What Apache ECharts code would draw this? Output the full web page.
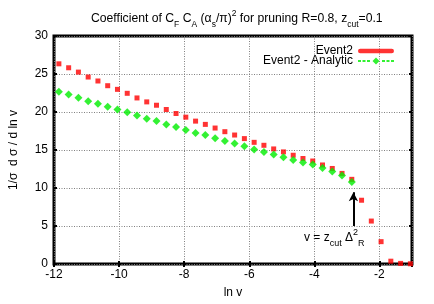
<!DOCTYPE html>
<html>
<head>
<meta charset="utf-8">
<script src="https://cdn.jsdelivr.net/npm/echarts@6/dist/echarts.min.js"></script>
<style>
html,body{margin:0;padding:0;background:#fff;}
#c{width:434px;height:304px;}
</style>
</head>
<body>
<div id="c"></div>
<script>
// ln v bin centres
const lnV = [-11.85,-11.55,-11.25,-10.95,-10.65,-10.35,-10.05,-9.75,-9.45,-9.15,
  -8.85,-8.55,-8.25,-7.95,-7.65,-7.35,-7.05,-6.75,-6.45,-6.15,
  -5.85,-5.55,-5.25,-4.95,-4.65,-4.35,-4.05,-3.75,-3.45,-3.15,
  -2.85,-2.55,-2.25,-1.95,-1.65,-1.35,-1.05];
// Event2
const event2 = [26.34,25.82,25.25,24.60,24.08,23.46,22.98,22.46,21.85,21.33,
  20.89,20.33,19.80,19.32,18.80,18.37,17.89,17.41,16.97,16.50,
  16.01,15.62,15.14,14.75,14.31,13.88,13.55,13.03,12.57,11.92,
  11.14,8.39,5.65,2.94,0.37,0.08,0.03];
// Event2 - Analytic
const event2Analytic = [22.68,22.29,21.86,21.41,21.07,20.68,20.33,19.97,19.54,19.11,
  18.80,18.37,18.01,17.62,17.23,16.97,16.54,16.18,15.84,15.49,
  15.06,14.75,14.41,14.05,13.70,13.36,13.08,12.63,12.18,11.66,
  10.78];
const seriesNames = ['Event2', 'Event2 - Analytic'];
const arrowX = -2.8;
const arrowFrom = 5;
const arrowTo = 9.45;

const FONT = 'Liberation Sans, Arial, Helvetica, sans-serif';
const chart = echarts.init(document.getElementById('c'), null, {renderer: 'canvas'});

const subSup = {
  sub: {fontSize: 8.5, lineHeight: 8, verticalAlign: 'bottom', fontFamily: FONT, color: '#000'},
  sup: {fontSize: 8.5, lineHeight: 8, verticalAlign: 'top', fontFamily: FONT, color: '#000'}
};

const axisCommon = {
  type: 'value',
  axisLine: {show: false},
  axisTick: {show: true, inside: true, length: 3, lineStyle: {color: '#000', width: 2}},
  splitLine: {show: false},
  axisLabel: {show: false}
};

const gridLine = {show: true, lineStyle: {color: '#808080', width: 1, type: [1, 1.5]}};

const option = {
  animation: false,
  backgroundColor: '#fff',
  title: {
    text: 'Coefficient of C{sub|F} C{sub|A} (α{sub|s}/π){sup|2} for pruning R=0.8, z{sub|cut}=0.1',
    left: 86,
    top: 4,
    textStyle: {fontSize: 12.2, fontWeight: 'normal', fontFamily: FONT, color: '#000', lineHeight: 20, rich: subSup}
  },
  grid: {left: 52, right: 22, top: 36, bottom: 38.5, show: true, borderColor: '#000', borderWidth: 3, backgroundColor: 'transparent'},
  legend: {
    orient: 'vertical',
    align: 'right',
    right: 35,
    top: 40,
    itemWidth: 36,
    itemHeight: 7,
    itemGap: -2,
    textStyle: {fontSize: 12, fontFamily: FONT, color: '#000', lineHeight: 12},
    data: [
      {name: seriesNames[0], icon: 'path://M1 0 L35 0 A2 2 0 0 1 35 5 L1 5 A2 2 0 0 1 1 0 Z'},
      {name: seriesNames[1], icon: 'path://M0 2.5 L3 2.5 L3 4.5 L0 4.5 Z M4.5 2.5 L7.5 2.5 L7.5 4.5 L4.5 4.5 Z M9 2.5 L12 2.5 L12 4.5 L9 4.5 Z M14.5 3.5 L18 0 L21.5 3.5 L18 7 Z M24 2.5 L27 2.5 L27 4.5 L24 4.5 Z M28.5 2.5 L31.5 2.5 L31.5 4.5 L28.5 4.5 Z M33 2.5 L36 2.5 L36 4.5 L33 4.5 Z'}
    ]
  },
  xAxis: [
    Object.assign({}, axisCommon, {
      min: -12, max: -1, interval: 2, position: 'bottom',
      name: 'ln v', nameLocation: 'middle', nameGap: 23,
      nameTextStyle: {fontSize: 12, fontFamily: FONT, color: '#000'},
      axisLabel: {show: true, showMaxLabel: false, fontSize: 12, fontFamily: FONT, color: '#000', margin: 5},
      splitLine: gridLine
    }),
    Object.assign({}, axisCommon, {min: -12, max: -1, interval: 2, position: 'top'})
  ],
  yAxis: [
    Object.assign({}, axisCommon, {
      min: 0, max: 30, interval: 5, position: 'left',
      name: '1/σ  d σ / d ln v', nameLocation: 'middle', nameGap: 34, nameRotate: 90,
      nameTextStyle: {fontSize: 12, fontFamily: FONT, color: '#000'},
      axisLabel: {show: true, fontSize: 12, fontFamily: FONT, color: '#000', margin: 6},
      splitLine: gridLine
    }),
    Object.assign({}, axisCommon, {min: 0, max: 30, interval: 5, position: 'right'})
  ],
  series: [
    {
      name: seriesNames[0],
      type: 'scatter',
      symbol: 'rect',
      symbolSize: 5,
      itemStyle: {color: '#ff0000'},
      z: 3,
      data: lnV.map((x, i) => [x, event2[i]])
    },
    {
      name: seriesNames[1],
      type: 'scatter',
      symbol: 'diamond',
      symbolSize: 8,
      itemStyle: {color: '#00ee00'},
      z: 4,
      data: event2Analytic.map((y, i) => [lnV[i], y]),
      markLine: {
        silent: true,
        symbol: ['none', 'arrow'],
        symbolSize: [7, 9],
        label: {show: false},
        lineStyle: {color: '#000', width: 2, type: 'solid'},
        data: [[{coord: [arrowX, arrowFrom]}, {coord: [arrowX, arrowTo]}]]
      }
    }
  ],
  graphic: [
    {
      type: 'text',
      left: 304,
      top: 228,
      style: {
        text: 'v = z{sub|cut} Δ{sup|2}{sub|R}',
        fontSize: 12,
        fontFamily: FONT,
        fill: '#000',
        lineHeight: 20,
        rich: {
          sub: {fontSize: 9, lineHeight: 8, verticalAlign: 'bottom', fontFamily: FONT, fill: '#000'},
          sup: {fontSize: 9, lineHeight: 8, verticalAlign: 'top', fontFamily: FONT, fill: '#000'}
        }
      }
    }
  ]
};
chart.setOption(option);
</script>
</body>
</html>
